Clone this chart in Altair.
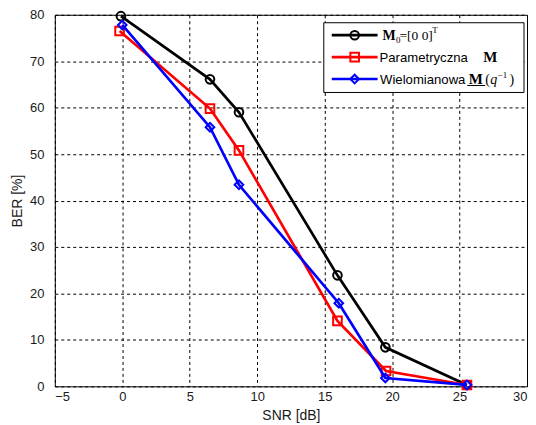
import altair as alt
import pandas as pd

# ---- data ----
snr_m0 = [-0.1, 6.5, 8.65, 15.95, 19.5, 25.55]
ber_m0 = [79.7, 66.1, 59.0, 23.9, 8.4, 0.3]
snr_par = [-0.2, 6.5, 8.65, 15.95, 19.55, 25.55]
ber_par = [76.5, 59.8, 50.8, 14.1, 3.3, 0.3]
snr_wiel = [0.0, 6.5, 8.65, 16.05, 19.5, 25.55]
ber_wiel = [77.8, 55.8, 43.4, 17.9, 1.8, 0.3]

series_keys = ["M0", "Parametryczna", "Wielomianowa"]
series_colors = ["#000000", "#ff0000", "#0000ff"]
series_shapes = ["circle", "square", "diamond"]

x_ticks = [-5, 0, 5, 10, 15, 20, 25, 30]
y_ticks = [0, 10, 20, 30, 40, 50, 60, 70, 80]

SANS = "Liberation Sans"
SERIF = "Liberation Serif"
TXT = "#1a1a1a"

frames = []
for key, xs, ys in zip(series_keys, [snr_m0, snr_par, snr_wiel], [ber_m0, ber_par, ber_wiel]):
    frames.append(pd.DataFrame({"snr": xs, "ber": ys, "series": key}))

x_enc = alt.X(
    "snr:Q",
    scale=alt.Scale(domain=[-5, 30], nice=False, zero=False),
    axis=alt.Axis(
        values=x_ticks, title="SNR [dB]", format="d",
        grid=True, gridColor="black", gridDash=[3, 3], gridWidth=1, gridOpacity=1,
        ticks=False, tickSize=0, domain=False,
        labelFont=SANS, labelFontSize=13, labelColor=TXT, labelPadding=4,
        titleFont=SANS, titleFontSize=14, titleFontWeight="normal", titleColor=TXT, titlePadding=5,
    ),
)
y_enc = alt.Y(
    "ber:Q",
    scale=alt.Scale(domain=[0, 80], nice=False, zero=False),
    axis=alt.Axis(
        values=y_ticks, title="BER [%]", format="d",
        grid=True, gridColor="black", gridDash=[3, 3], gridWidth=1, gridOpacity=1,
        ticks=False, tickSize=0, domain=False,
        labelFont=SANS, labelFontSize=13, labelColor=TXT, labelPadding=11,
        titleFont=SANS, titleFontSize=14, titleFontWeight="normal", titleColor=TXT, titlePadding=5,
    ),
)

layers = []
for df, color, shape in zip(frames, series_colors, series_shapes):
    base = alt.Chart(df).encode(x=x_enc, y=y_enc)
    layers.append(base.mark_line(color=color, strokeWidth=2.7))
    layers.append(base.mark_point(shape=shape, filled=False, color=color, size=75, strokeWidth=2, opacity=1))

# ---- legend (drawn by hand for the mixed-font labels) ----
one = pd.DataFrame({"k": [0]})

def txt(s, x, y, size, font, weight="normal", style="normal"):
    return alt.Chart(one).mark_text(
        text=s, align="left", baseline="alphabetic", font=font, fontSize=size,
        fontWeight=weight, fontStyle=style, color="black",
    ).encode(x=alt.value(x), y=alt.value(y))

legend = [
    alt.Chart(one).mark_rect(fill="white", stroke="black", strokeWidth=1).encode(
        x=alt.value(270), x2=alt.value(471), y=alt.value(8), y2=alt.value(78)
    )
]
row_y = [20.5, 42.5, 64.5]
for ry, color, shape in zip(row_y, series_colors, series_shapes):
    legend.append(alt.Chart(one).mark_rule(color=color, strokeWidth=2.7).encode(
        x=alt.value(278), x2=alt.value(324), y=alt.value(ry)))
    legend.append(alt.Chart(one).mark_point(shape=shape, filled=False, color=color, size=75,
                                            strokeWidth=2, opacity=1).encode(
        x=alt.value(301), y=alt.value(ry)))

b1, b2, b3 = row_y[0] + 4.5, row_y[1] + 4.5, row_y[2] + 4.5
legend += [
    txt("M", 329, b1, 14, SERIF, weight="bold"),
    txt("0", 342.5, b1 + 3, 9, SERIF),
    txt("=[0 0]", 346, b1, 13.5, SERIF),
    txt("T", 379, b1 - 7, 9, SERIF),
    txt("Parametryczna", 326, b2, 13.2, SANS),
    txt("M", 430, b2, 15, SERIF, weight="bold"),
    txt("Wielomianowa", 326.5, b3, 13.2, SANS),
    txt("M", 415.5, b3, 15, SERIF, weight="bold"),
    alt.Chart(one).mark_rule(color="black", strokeWidth=1).encode(
        x=alt.value(414), x2=alt.value(432), y=alt.value(b3 + 2)),
    txt("(", 432, b3, 14, SERIF),
    txt("q", 437, b3, 14, SERIF, style="italic"),
    txt("\u22121", 444.5, b3 - 6, 9, SERIF),
    txt(")", 456.5, b3, 14, SERIF),
]

chart = alt.layer(*layers, *legend).properties(
    width=474, height=373,
    autosize=alt.AutoSizeParams(type="none"),
    padding={"left": 47, "top": 6, "right": 1, "bottom": 37},
).configure_view(stroke="black", strokeWidth=1, fill="white")

chart.save("out.html", embed_options={"renderer": "svg", "actions": False})
